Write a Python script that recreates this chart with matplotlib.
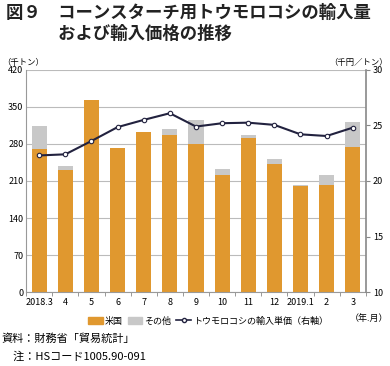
import numpy as np
import matplotlib
import matplotlib.pyplot as plt
from matplotlib.lines import Line2D
from matplotlib.patches import Patch

plt.rcParams['font.family'] = ['Noto Sans CJK JP', 'DejaVu Sans']

months = ['2018.3', '4', '5', '6', '7', '8', '9', '10', '11', '12', '2019.1', '2', '3']
us = [270, 230, 364, 272, 303, 297, 280, 221, 292, 243, 201, 202, 274]
other = [44, 8, 0, 0, 0, 11, 45, 12, 4, 8, 2, 19, 48]
price = [22.3, 22.4, 23.6, 24.85, 25.5, 26.1, 24.9, 25.2, 25.25, 25.05, 24.2, 24.05, 24.8]

orange = '#E0982F'
grey = '#C8C8C8'
navy = '#22223F'

fig = plt.figure(figsize=(3.9, 3.66), dpi=100)
ax = fig.add_axes([0.067, 0.202, 0.871, 0.607])
x = np.arange(len(months))
ax.bar(x, us, width=0.58, color=orange, zorder=2)
ax.bar(x, other, width=0.58, bottom=us, color=grey, zorder=2)
ax.set_xlim(-0.5, len(months) - 0.5)
ax.set_ylim(0, 420)
ax.set_yticks(np.arange(0, 421, 70))
ax.yaxis.grid(True, color='#BBBBBB', linewidth=0.8, zorder=0)
ax.set_axisbelow(True)
ax.set_xticks(x)
ax.set_xticklabels(months, fontsize=6.5)
ax.set_xticks(np.arange(-0.5, len(months)), minor=True)
ax.tick_params(axis='x', which='major', length=0, pad=4)
ax.tick_params(axis='x', which='minor', length=3, color='#888888')
ax.tick_params(axis='y', labelsize=6.5, length=0, pad=2)
for s in ['top', 'right']:
    ax.spines[s].set_visible(False)
ax.spines['left'].set_color('#999999')
ax.spines['bottom'].set_color('#999999')

ax2 = ax.twinx()
ax2.plot(x, price, color=navy, linewidth=1.5, marker='o', markersize=3.2,
         markerfacecolor='white', markeredgecolor=navy, markeredgewidth=0.8, zorder=3)
ax2.set_ylim(10, 30)
ax2.set_yticks(np.arange(10, 31, 5))
ax2.tick_params(axis='y', labelsize=6.5, length=3, color='#888888', pad=2)
for s in ['top', 'left', 'bottom']:
    ax2.spines[s].set_visible(False)
ax2.spines['right'].set_color('#888888')
ax2.spines['right'].set_linewidth(1.2)

fig.text(0.015, 0.988, '図９　コーンスターチ用トウモロコシの輸入量', fontsize=12.5,
         fontweight='bold', va='top', color='#222222')
fig.text(0.015, 0.932, '　　　および輸入価格の推移', fontsize=12.5,
         fontweight='bold', va='top', color='#222222')
fig.text(0.005, 0.83, '（千トン）', fontsize=6, va='center')
fig.text(0.995, 0.83, '（千円／トン）', fontsize=6, va='center', ha='right')

handles = [Patch(color=orange), Patch(color=grey),
           Line2D([], [], color=navy, linewidth=1.2, marker='o', markersize=3,
                  markerfacecolor='white', markeredgecolor=navy)]
labels = ['米国', 'その他', 'トウモロコシの輸入単価（右軸）']
fig.legend(handles, labels, loc='center', bbox_to_anchor=(0.533, 0.123), ncol=3,
           frameon=False, fontsize=6.5, handlelength=1.6, handletextpad=0.2,
           columnspacing=0.6, borderaxespad=0)
fig.text(0.995, 0.13, '（年.月）', fontsize=6.5, va='center', ha='right')

fig.text(0.005, 0.075, '資料：財務省「貿易統計」', fontsize=8, va='center')
fig.text(0.005, 0.025, '　注：HSコード1005.90-091', fontsize=8, va='center')

fig.savefig('out.png', dpi=100)
